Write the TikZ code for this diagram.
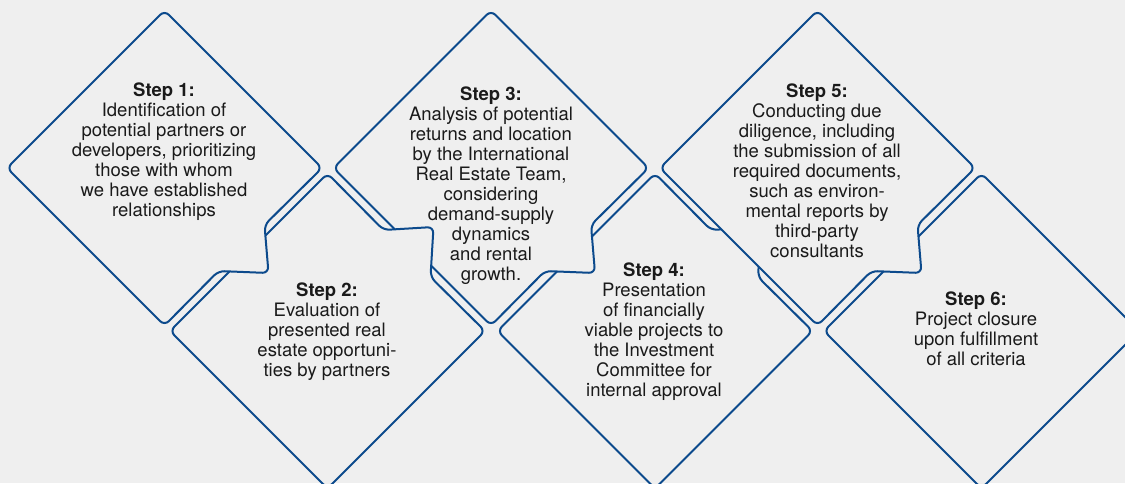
\documentclass[tikz,border=0pt]{standalone}
\usepackage{fontspec}
\setmainfont{TeX Gyre Heros}
\usepackage{tikz}

\definecolor{stepblue}{RGB}{12,74,140}
\definecolor{paper}{RGB}{239,239,239}
\definecolor{ink}{RGB}{26,26,26}

\begin{document}
\begin{tikzpicture}[x=1pt, y=-1pt, line width=2pt,
  stepshape/.style={draw=stepblue, fill=paper, rounded corners=6pt},
  steptext/.style={anchor=north, align=center, inner sep=0pt, text=ink,
                   font=\fontsize{18.5}{20}\selectfont}]

% draw background and fix the frame
\fill[paper] (0, 0) rectangle (1125, 483);
\useasboundingbox (0, 0) rectangle (1125, 483);
\clip (0, 0) rectangle (1125, 483);

% draw lower diamonds (tab on the upper right edge)
\filldraw[stepshape, shift={(981.5, 331)}] (0, -157.5) -- (157.5, 0) -- (0, 157.5) -- (-157.5, 0) -- cycle;

\filldraw[stepshape, shift={(655, 331)}] (56, -101) -- (106, -104) -- (103, -54)
                                  -- (157.5, 0) -- (0, 157.5) -- (-157.5, 0) -- (0, -157.5) -- cycle;

% draw upper diamonds (tab on the lower right edge)
\filldraw[stepshape, shift={(817.5, 168)}] (54, 103) -- (0, 157.5) -- (-157.5, 0) -- (0, -157.5)
                                  -- (157.5, 0) -- (100, 57) -- (104, 105) -- cycle;

\filldraw[stepshape, shift={(491, 168)}] (54, 103) -- (0, 157.5) -- (-157.5, 0) -- (0, -157.5)
                                  -- (157.5, 0) -- (100, 57) -- (104, 105) -- cycle;

\filldraw[stepshape, shift={(327.5, 331)}] (56, -101) -- (106, -104) -- (103, -54)
                                  -- (157.5, 0) -- (0, 157.5) -- (-157.5, 0) -- (0, -157.5) -- cycle;

\filldraw[stepshape, shift={(164.5, 168)}] (54, 103) -- (0, 157.5) -- (-157.5, 0) -- (0, -157.5)
                                  -- (157.5, 0) -- (100, 57) -- (104, 105) -- cycle;

% draw labels
\node[steptext] (step1) at (164, 82) {\textbf{Step 1:}\\Identification of\\potential partners or\\developers, prioritizing\\those with whom\\we have established\\relationships};
\node[steptext] (step2) at (327, 282) {\textbf{Step 2:}\\Evaluation of\\presented real\\estate opportuni-\\ties by partners};
\node[steptext] (step3) at (491, 86) {\textbf{Step 3:}\\Analysis of potential\\returns and location\\by the International\\Real Estate Team,\\considering\\demand-supply\\dynamics\\and rental\\growth.};
\node[steptext] (step4) at (654, 262) {\textbf{Step 4:}\\Presentation\\of financially\\viable projects to\\the Investment\\Committee for\\internal approval};
\node[steptext] (step5) at (817, 83) {\textbf{Step 5:}\\Conducting due\\diligence, including\\the submission of all\\required documents,\\such as environ-\\mental reports by\\third-party\\consultants};
\node[steptext] (step6) at (976, 291) {\textbf{Step 6:}\\Project closure\\upon fulfillment\\of all criteria};

\end{tikzpicture}
\end{document}
